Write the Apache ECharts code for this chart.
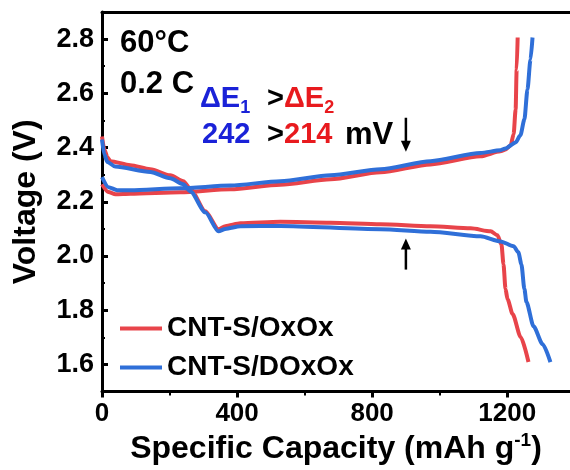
<!DOCTYPE html>
<html><head><meta charset="utf-8">
<script src="https://cdn.jsdelivr.net/npm/echarts@6/dist/echarts.min.js"></script>
<style>html,body{margin:0;padding:0;background:#fff}#c{width:570px;height:470px}</style>
</head><body><div id="c"></div>
<script>
const seriesNames = ['CNT-S/OxOx', 'CNT-S/DOxOx'];
const redDisCap = [0,7,16,25,84,143,202,241,262,306,345,365,410,528,677,825,973,1092,1151,1171,1183,1189,1195,1201,1216,1240,1263];
const redDisV   = [2.441,2.393,2.364,2.35,2.335,2.32,2.298,2.276,2.247,2.165,2.099,2.11,2.121,2.126,2.123,2.117,2.11,2.102,2.091,2.077,2.043,1.97,1.878,1.841,1.786,1.701,1.609];
const redChCap  = [0,19,40,84,232,380,528,677,825,973,1121,1180,1195,1210,1219,1225,1228,1231];
const redChV    = [2.265,2.236,2.228,2.23,2.235,2.246,2.263,2.283,2.309,2.338,2.368,2.386,2.393,2.408,2.449,2.541,2.688,2.806];
const blueDisCap = [0,7,16,39,143,202,241,262,306,345,365,410,528,825,973,1121,1180,1219,1233,1242,1251,1257,1278,1305,1328];
const blueDisV   = [2.43,2.374,2.347,2.33,2.31,2.287,2.265,2.238,2.161,2.091,2.1,2.11,2.111,2.099,2.09,2.073,2.054,2.036,2.014,1.97,1.878,1.83,1.741,1.675,1.609];
const blueChCap  = [0,19,45,84,232,380,528,677,825,973,1121,1180,1195,1225,1239,1251,1260,1269,1275];
const blueChV    = [2.291,2.254,2.243,2.243,2.25,2.26,2.276,2.298,2.32,2.35,2.38,2.39,2.397,2.419,2.445,2.504,2.614,2.725,2.806];
const xTicks = [0,400,800,1200];
const xMinorTicks = [200,600,1000];
const yTicks = [1.6,1.8,2.0,2.2,2.4,2.6,2.8];
const yMinorTicks = [1.7,1.9,2.1,2.3,2.5,2.7];
const colors = ['#e8444a', '#2f6fd8'];
const arrowCap = 900;
const downArrowV = [2.51, 2.385];
const upArrowV = [2.065, 1.95];

function pts(c, v){ return c.map((x,i)=>[x, v[i]]); }
const redData = pts(redDisCap, redDisV).concat([[null,null]], pts(redChCap, redChV));
const blueData = pts(blueDisCap, blueDisV).concat([[null,null]], pts(blueChCap, blueChV));

const FF = 'Arial, "Liberation Sans", sans-serif';
const XMIN = 0, XMAX = 1386, YMIN = 1.5, YMAX = 2.9;
const chart = echarts.init(document.getElementById('c'), null, {renderer:'canvas'});
const lineSeries = (name, data, color) => ({
  name, type:'line', data, showSymbol:false, symbol:'none', connectNulls:false,
  xAxisIndex:0, yAxisIndex:0,
  smooth:0.25, smoothMonotone:'x', lineStyle:{color, width:4}, itemStyle:{color}, z:3
});
const blackLine = {lineStyle:{color:'#000', width:3}};
chart.setOption({
  animation:false,
  grid:{left:102, top:12, bottom:78, right:0, show:false, containLabel:false},
  xAxis:[{type:'value', min:XMIN, max:XMAX, position:'bottom',
    name:'Specific Capacity (mAh g{sup|-1})', nameLocation:'middle', nameGap:30,
    nameTextStyle:{fontFamily:FF, fontWeight:'bold', fontSize:32, color:'#000',
      rich:{sup:{fontFamily:FF, fontWeight:'bold', fontSize:19, color:'#000', verticalAlign:'top', padding:[0,0,16,0]}}},
    axisLine:blackLine,
    axisTick:{inside:false, length:6, customValues:xTicks, lineStyle:{color:'#000', width:3}},
    axisLabel:{fontFamily:FF, fontWeight:'bold', fontSize:26, color:'#000', margin:9, customValues:xTicks,
      formatter:v => String(Math.round(v))},
    splitLine:{show:false}
  },{type:'value', min:XMIN, max:XMAX, position:'bottom',
    axisLine:{show:false},
    axisTick:{inside:false, length:4, customValues:xMinorTicks, lineStyle:{color:'#000', width:2}},
    axisLabel:{show:false}, splitLine:{show:false}
  },{type:'value', min:XMIN, max:XMAX, position:'top',
    axisLine:blackLine, axisTick:{show:false}, axisLabel:{show:false}, splitLine:{show:false}
  }],
  yAxis:[{type:'value', min:YMIN, max:YMAX, position:'left',
    name:'Voltage (V)', nameLocation:'middle', nameGap:60, nameRotate:90,
    nameTextStyle:{fontFamily:FF, fontWeight:'bold', fontSize:32, color:'#000'},
    axisLine:blackLine,
    axisTick:{inside:true, length:6, customValues:yTicks, lineStyle:{color:'#000', width:3}},
    axisLabel:{fontFamily:FF, fontWeight:'bold', fontSize:27, color:'#000', margin:8,
      customValues:yTicks, formatter:v => v.toFixed(1)},
    splitLine:{show:false}
  },{type:'value', min:YMIN, max:YMAX, position:'left',
    axisLine:{show:false},
    axisTick:{inside:true, length:3, customValues:yMinorTicks, lineStyle:{color:'#000', width:2}},
    axisLabel:{show:false}, splitLine:{show:false}
  }],
  legend:{orient:'vertical', left:115, top:308, icon:'rect', itemWidth:42, itemHeight:4, itemGap:8,
    textStyle:{fontFamily:FF, fontWeight:'bold', fontSize:28, color:'#000', lineHeight:31},
    data:seriesNames},
  series:[lineSeries(seriesNames[0], redData, colors[0]), lineSeries(seriesNames[1], blueData, colors[1])]
});

const BLUE = '#1a22d8', RED = '#e81a1e';
const mctx = document.createElement('canvas').getContext('2d');
function w(s, size){ mctx.font = 'bold '+size+'px '+FF; return mctx.measureText(s).width; }
function txt(x, yc, s, fill, size){
  return {type:'text', x, y:yc, z:10, style:{text:s, fill, font:'bold '+(size||29)+'px '+FF, verticalAlign:'middle', align:'left'}};
}
const px = (c, v) => chart.convertToPixel({xAxisIndex:0, yAxisIndex:0}, [c, v]);
const ax = px(arrowCap, downArrowV[0]);
const X = ax[0], d0 = ax[1];
const d1 = px(arrowCap, downArrowV[1])[1];
const u0 = px(arrowCap, upArrowV[0])[1];
const u1 = px(arrowCap, upArrowV[1])[1];
const dE = w('ΔE', 29);
chart.setOption({graphic:[
  txt(120, 43, '60°C', '#000', 31),
  txt(120, 84, '0.2 C', '#000', 31),
  txt(200, 99, 'ΔE', BLUE),
  txt(200 + dE, 108, '1', BLUE, 18),
  txt(267, 99, '>', '#000'),
  txt(284, 99, 'ΔE', RED),
  txt(284 + dE, 108, '2', RED, 18),
  txt(202, 135, '242', BLUE),
  txt(267, 135, '>', '#000'),
  txt(284, 135, '214', RED),
  txt(345, 135, 'mV', '#000', 31),
  {type:'line', z:10, shape:{x1:X, y1:d0, x2:X, y2:d1-8}, style:{stroke:'#000', lineWidth:2.5}},
  {type:'polygon', z:10, shape:{points:[[X-5,d1-11],[X+5,d1-11],[X,d1]]}, style:{fill:'#000'}},
  {type:'line', z:10, shape:{x1:X, y1:u1, x2:X, y2:u0+8}, style:{stroke:'#000', lineWidth:2.5}},
  {type:'polygon', z:10, shape:{points:[[X-5,u0+11],[X+5,u0+11],[X,u0]]}, style:{fill:'#000'}}
]});
</script></body></html>
